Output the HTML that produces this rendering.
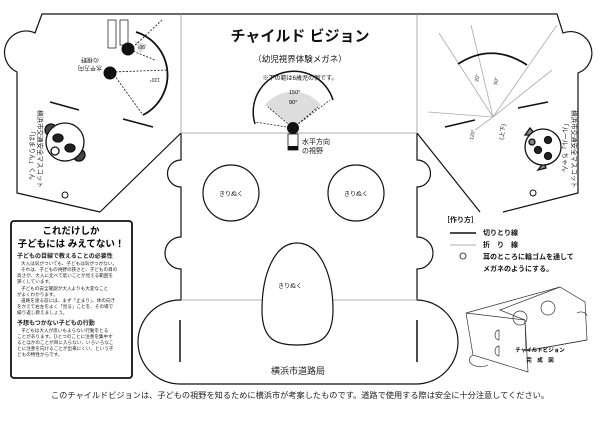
<!DOCTYPE html>
<html><head><meta charset="utf-8"><style>
body{margin:0;background:#fff;}
svg{display:block;font-family:"Liberation Sans","Noto Sans CJK JP",sans-serif;}
</style></head><body>
<svg width="600" height="424" viewBox="0 0 600 424" xmlns="http://www.w3.org/2000/svg">
<rect width="600" height="424" fill="#fff"/>
<g fill="none" stroke="#111" stroke-width="1.2">
<path d="M100,212 L17,193 L17,72 A21,21 0 0 1 35,33 L42,14 L557,14 L563,33 A21,21 0 0 1 578,73 L578,193 L503,212"/>
<path d="M100,212 L181,133"/>
<path d="M480,212 L417,133"/>
<path d="M181,133 L181,160 A13,13 0 0 0 181,187 L181,237 A16,16 0 0 0 181,269 L181,300 L180,300 A42,42 0 0 0 180,384 L415,384 A42,42 0 0 0 417,300 L417,269 A16,16 0 0 0 417,237 L417,187 A13,13 0 0 0 417,160 L417,133"/>
<circle cx="231" cy="193" r="28"/>
<circle cx="356" cy="193" r="28"/>
<path d="M297,243 C320,243 333,275 333,310 C333,340 318,345 297,345 C276,345 262,340 262,310 C262,275 274,243 297,243 Z"/>
<path d="M180,320 L180,362 M417,320 L417,362" stroke-width="1.5"/>
<path d="M50,102 L79,110 M123,119 L153,127" stroke-width="1.5"/>
<circle cx="65" cy="195" r="3" stroke-width="1"/>
<path d="M445,127 L475,120 M518,108 L548,102" stroke-width="1.5"/>
<circle cx="533" cy="193" r="3" stroke-width="1"/>
</g>
<g stroke="#999" stroke-width="0.8" fill="none">
<path d="M181,14 L181,133 L417,133 L417,14"/>
<path d="M181,300 L262,300 M333,300 L417,300"/>
</g>
<g stroke="#111" fill="none">
<path d="M134,40 L140,53 A18,18 0 0 0 147,45 Z" fill="#ddd" stroke="none"/>
<path d="M136,32 A45,45 0 0 1 143,115" stroke-width="1.8"/>
<path d="M130,50 L162,20 M130,50 L155,60 M112,72 L167,70 M112,72 L143,115" stroke-width="0.8" stroke-dasharray="2,1.5"/>
<circle cx="128" cy="49" r="6" fill="#111"/>
<circle cx="110" cy="73" r="6" fill="#111"/>
<rect x="108" y="20" width="8" height="28" stroke-width="0.7"/>
<rect x="120" y="20" width="8" height="25" stroke-width="0.7"/>
</g>
<g font-size="6" fill="#222">
<text transform="translate(90,66) rotate(180)" text-anchor="middle">水平方向</text>
<text transform="translate(90,58) rotate(180)" text-anchor="middle">の視野</text>
<text transform="translate(160,78) rotate(180)" font-size="5">120°</text>
<text transform="translate(145,45) rotate(180)" font-size="5">90°</text>
<text transform="translate(38,110) rotate(90)" font-size="6.5">横浜市交通安全マスコット</text>
<text transform="translate(30,128) rotate(90)" font-size="6.5">「はまりん」くん</text>
</g>
<g stroke="#111" stroke-width="1.3">
<circle cx="51" cy="130" r="6" fill="#444"/><circle cx="79" cy="155" r="6" fill="#444"/>
<circle cx="65" cy="142" r="19" fill="#fff"/>
<ellipse cx="58" cy="138" rx="5" ry="4" fill="#222"/><ellipse cx="70" cy="148" rx="5" ry="4" fill="#222"/>
<circle cx="55" cy="151" r="4" fill="#fff"/>
</g>
<g stroke="#aaa" stroke-width="0.8" fill="none">
<path d="M493,117 L439,33 M493,117 L471,25 M493,117 L557,25 M493,117 L552,70 M493,117 L428,112 M493,117 L475,130"/>
</g>
<path d="M458,64 Q492,42 527,65" stroke="#111" stroke-width="1.8" fill="none"/>
<g font-size="5" fill="#222">
<text transform="translate(478,82) rotate(-80)">20°</text>
<text transform="translate(497,85) rotate(-80)">50°</text>
<text transform="translate(473,140) rotate(-80)">120°</text>
<text transform="translate(503,140) rotate(-80)" font-size="6">(上下)</text>
<text transform="translate(572,110) rotate(90)" font-size="6.5">横浜市交通安全マスコット</text>
<text transform="translate(563,120) rotate(90)" font-size="6.5">「ルール」ちゃん</text>
</g>
<g stroke="#111" stroke-width="1.3">
<path d="M525,135 L530,128 L536,135 Z" fill="#888"/><path d="M538,170 L546,168 L544,162 Z" fill="#888"/>
<circle cx="543" cy="147" r="18" fill="#fff"/>
<circle cx="532" cy="142" r="3" fill="#888"/>
<circle cx="538" cy="150" r="3.5" fill="#222"/><circle cx="548" cy="140" r="3.5" fill="#222"/>
<circle cx="548" cy="156" r="3.5" fill="#222"/>
</g>
<text x="300" y="41" font-size="15" font-weight="bold" text-anchor="middle" fill="#111">チャイルド ビジョン</text>
<text x="300" y="62" font-size="8.5" text-anchor="middle" fill="#111">（幼児視界体験メガネ）</text>
<text x="300" y="80" font-size="6" text-anchor="middle" fill="#111">※下の範は6歳児の例です。</text>
<path d="M293,128 L265,105 A36,36 0 0 1 321,105 Z" fill="#ddd"/>
<path d="M255,124 A40,40 0 0 1 333,100" stroke="#111" stroke-width="1.5" fill="none"/>
<path d="M293,128 L255,122 M293,128 L330,100 M293,128 L268,107 M293,128 L318,107" stroke="#111" stroke-width="0.7" stroke-dasharray="2,1.5" fill="none"/>
<text x="289" y="94" font-size="5.5">150°</text>
<text x="289" y="104" font-size="5.5">90°</text>
<circle cx="293" cy="128" r="6" fill="#111"/>
<rect x="288" y="134" width="10" height="16" fill="#fff" stroke="#111" stroke-width="0.8"/>
<rect x="288" y="146" width="10" height="4" fill="#111"/>
<text x="302" y="144" font-size="7" fill="#111">水平方向</text>
<text x="302" y="153" font-size="7" fill="#111">の視野</text>
<g font-size="6" fill="#111" text-anchor="middle">
<text x="231" y="196">きりぬく</text>
<text x="356" y="196">きりぬく</text>
<text x="290" y="288">きりぬく</text>
</g>
<text x="298" y="374" font-size="9" text-anchor="middle" fill="#222">横浜市道路局</text>
<rect x="11" y="221" width="121" height="157" rx="3" fill="#fff" stroke="#111" stroke-width="1.8"/>
<text x="71" y="234" font-size="9.5" font-weight="bold" text-anchor="middle">これだけしか</text>
<text x="71" y="247" font-size="9.5" font-weight="bold" text-anchor="middle">子どもには みえてない！</text>
<g font-size="4.6" fill="#222">
<text x="17" y="258" font-size="6" font-weight="bold">子どもの目線で教えることの必要性</text>
<text x="21" y="265">大人は気がついても、子どもは気がつかない。</text>
<text x="21" y="271">それは、子どもの視野の狭さと、子どもの目の</text>
<text x="17" y="277">高さが、大人に比べて低いことが見える範囲を</text>
<text x="17" y="283">狭くしています。</text>
<text x="21" y="290">子どもの安全確認が大人よりも大変なこと</text>
<text x="17" y="296">がよくわかります。</text>
<text x="21" y="302">道路を渡る前には、まず「止まり」、体の向き</text>
<text x="17" y="308">をかえて右左をよく「見る」ことを、その場で</text>
<text x="17" y="314">繰り返し教えましょう。</text>
<text x="17" y="325" font-size="6" font-weight="bold">予想もつかない子どもの行動</text>
<text x="21" y="332">子どもは大人が思いもよらない行動をとる</text>
<text x="17" y="338">ことがあります。ひとつのことに注意を集中す</text>
<text x="17" y="344">るとほかのことが目に入らない、いろいろなこ</text>
<text x="17" y="350">とに注意を向けることが出来にくい、という子</text>
<text x="17" y="356">どもの特性からです。</text>
</g>
<g font-size="7" fill="#111" font-weight="bold">
<text x="443" y="222">［作り方］</text>
<text x="483" y="235">切りとり線</text>
<text x="483" y="247">折　り　線</text>
<text x="483" y="259">耳のところに輪ゴムを通して</text>
<text x="483" y="271">メガネのようにする。</text>
</g>
<path d="M450,233 L476,233" stroke="#111" stroke-width="1.5"/>
<path d="M450,245 L476,245" stroke="#999" stroke-width="0.8"/>
<circle cx="463" cy="256" r="3" fill="none" stroke="#111" stroke-width="0.8"/>
<g fill="none" stroke="#333" stroke-width="0.7">
<path d="M466,313 L560,287 L585,302 L587,340 L526,351 L525,320 Z"/>
<path d="M466,313 L473,355 L528,372 L525,320 M560,287 L500,310 L525,320"/>
<path d="M587,340 L525,351"/>
<circle cx="520" cy="318" r="7"/><circle cx="548" cy="308" r="7"/>
<path d="M499,330 a4,5 0 0 0 0,10 Z M499,346 a4,5 0 0 0 0,10 Z"/>
<path d="M473,355 a10,6 0 0 0 15,10"/>
<path d="M577,313 a6,4 0 0 1 10,3"/>
</g>
<text x="540" y="352" font-size="5.5" font-weight="bold" text-anchor="middle">チャイルドビジョン</text>
<text x="540" y="362" font-size="5.5" font-weight="bold" text-anchor="middle">完　成　図</text>
<text x="300" y="398" font-size="8.2" text-anchor="middle" fill="#222">このチャイルドビジョンは、子どもの視野を知るために横浜市が考案したものです。道路で使用する際は安全に十分注意してください。</text>
</svg>
</body></html>
